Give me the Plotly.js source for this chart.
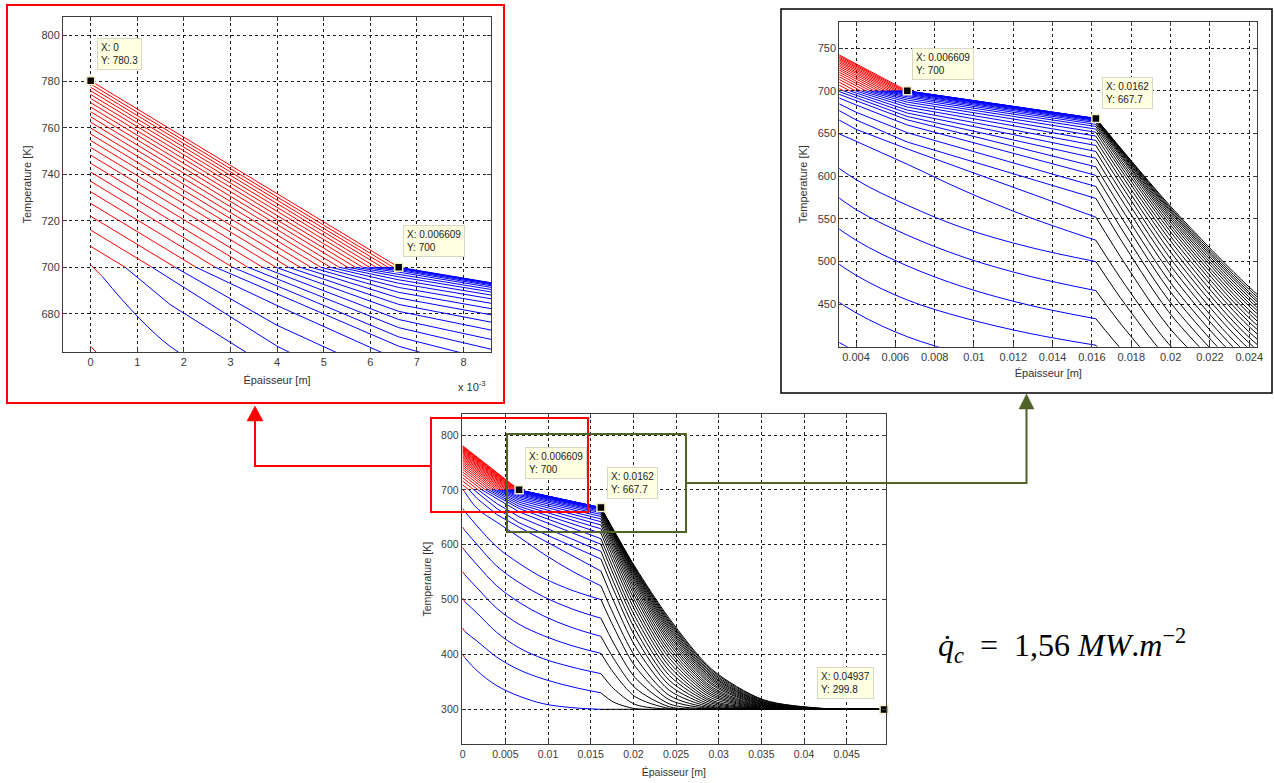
<!DOCTYPE html>
<html>
<head>
<meta charset="utf-8">
<script src="https://cdn.plot.ly/plotly-3.0.1.min.js"></script>
<style>html,body{margin:0;padding:0;background:#fff;}#chart{width:1274px;height:783px;}</style>
</head>
<body>
<div id="chart"></div>
<script>
// ---------------- DATA ----------------
// one temperature profile per time step: 8 before melting, 24 while the front moves
const meltT = 700;
const surfaceT = [400,448,503,551,595,632,666,701,709,716,722,727.5,732.5,737,741,744.8,748.3,751.6,754.6,757.4,760,762.5,764.8,767,769,770.9,772.7,774.4,776,777.5,778.9,780.3];
const meltFront = [null,null,null,null,null,null,null,null,0.00074,0.001317,0.001811,0.002263,0.002675,0.003045,0.003374,0.003687,0.003975,0.004247,0.004494,0.004724,0.004938,0.005144,0.005333,0.005514,0.005679,0.005835,0.005984,0.006123,0.006255,0.006379,0.006494,0.006609];
// first grid point (short red start of the non-molten profiles)
const xStub = 0.00025;
const stubT = [394,441.5,496,545,589,626,660.5,696,null,null,null,null,null,null,null,null,null,null,null,null,null,null,null,null,null,null,null,null,null,null,null,null];
// layers 1-2 (blue)
const blueX = [0.0017, 0.0040, 0.006609, 0.0095, 0.0128, 0.0162];
const T_0017 = [370,424,475,521,563,600,634,666,684,null,null,null,null,null,null,null,null,null,null,null,null,null,null,null,null,null,null,null,null,null,null,null];
const T_0040 = [343,395,440,484,525,561,596,641,655,666,675,683.5,null,null,null,null,null,null,null,null,null,null,null,null,null,null,null,null,null,null,null,null];
const T_0066 = [324,372,412,455,495,531,566,614,632,640,651,660,666,670,674,677.5,681,684,686.8,689.2,691.3,693.1,694.6,695.9,697,697.9,698.6,699.1,699.5,699.75,699.9,700];
const T_0095 = [310,355,392,434,470,505,539,583,null,null,null,null,null,null,null,null,null,null,null,null,null,null,null,null,null,null,null,null,null,null,null,null];
const T_0128 = [303,341,377,416,449,483,517,552,null,null,null,null,null,null,null,null,null,null,null,null,null,null,null,null,null,null,null,null,null,null,null,null];
const T_0162 = [300,330,365,402,433,466,500,525,552,574,588,601,611,621,629,636,642,647,651.5,655.2,658.3,660.8,662.8,664.3,665.4,666.2,666.8,667.2,667.45,667.6,667.65,667.7];
// layer 3 (black)
const blackX = [0.0162, 0.0177, 0.0202, 0.0242, 0.0292, 0.0352, 0.0422, 0.04937];
const T_0177 = [300,312.9,337.5,366.3,392.3,420.3,449.6,472.3,496.8,517.1,531.2,544.5,555.0,565.5,574.2,582.0,588.6,594.6,599.8,604.0,608.1,611.3,614.5,617.0,618.6,620.5,621.7,623.2,624.0,625.0,625.8,626.3];
const T_0202 = [300,301.2,308.9,323.1,339.1,357.8,378.4,396.2,415.4,432.6,446.0,458.4,469.1,479.8,488.9,497.3,505.2,512.0,518.2,523.8,529.0,533.4,537.2,540.8,544.0,546.8,549.4,551.9,553.9,555.8,557.7,559.6];
const T_0242 = [300,300,300.2,301.6,304.7,309.9,317.4,325.4,334.7,344.1,353.0,361.7,370.3,378.4,385.9,393.5,400.6,406.9,413.2,419.4,424.7,429.6,434.6,438.8,443.2,446.9,450.4,453.9,457.2,459.9,462.9,465.8];
const T_0292 = [300,300,300,300,300.1,300.4,301.0,302.0,303.6,305.6,308.0,310.9,313.7,316.5,320.2,323.9,327.1,330.6,334.1,337.4,340.6,344.5,347.4,350.9,353.9,356.7,359.7,362.1,365.1,367.5,370.5,372.8];
const T_0352 = [300,300,300,300,300,300,300,300.1,300.1,300.2,300.3,300.5,300.8,301.2,301.7,302.2,302.9,303.5,304.3,305.1,306.0,307.1,308.0,308.8,309.7,310.9,312.1,312.9,313.8,315.3,316.6,317.6];
const T_0422 = [300,300,300,300,300,300,300,300,300,300,300,300,300,300,300,300,300.1,300.1,300.2,300.2,300.2,300.3,300.4,300.5,300.6,300.7,300.8,301.0,301.1,301.2,301.4,301.6];
const T_0494 = [300,300,300,300,300,300,300,300,300,300,300,300,300,300,300,300,300,300,300,300,300,300,300,300,300,300,300,300,300,300,300,299.8];
// data tips
const tipX = [0, 0.006609, 0.0162, 0.04937];
const tipY = [780.3, 700, 667.7, 299.8];
const tipLabelX = ['0', '0.006609', '0.0162', '0.04937'];
const tipLabelY = ['780.3', '700', '667.7', '299.8'];
// ticks and titles
const tlXTicks = [0,0.001,0.002,0.003,0.004,0.005,0.006,0.007,0.008];
const tlXText = ['0','1','2','3','4','5','6','7','8'];
const tlYTicks = [680,700,720,740,760,780,800];
const trXTicks = [0.004,0.006,0.008,0.01,0.012,0.014,0.016,0.018,0.02,0.022,0.024];
const trXText = ['0.004','0.006','0.008','0.01','0.012','0.014','0.016','0.018','0.02','0.022','0.024'];
const trYTicks = [450,500,550,600,650,700,750];
const bXTicks = [0,0.005,0.01,0.015,0.02,0.025,0.03,0.035,0.04,0.045];
const bXText = ['0','0.005','0.01','0.015','0.02','0.025','0.03','0.035','0.04','0.045'];
const bYTicks = [300,400,500,600,700,800];
const xTitle = 'Épaisseur [m]';
const yTitle = 'Temperature [K]';
const formulaText = '<i>q̇</i><sub><i>c</i></sub>  =  1,56 <i>MW</i>.<i>m</i><sup>−2</sup>';

// ---------------- BUILD ----------------
const W = 1274, H = 783;
const blueT = [T_0017, T_0040, T_0066, T_0095, T_0128, T_0162];
const blackT = [T_0162, T_0177, T_0202, T_0242, T_0292, T_0352, T_0422, T_0494];

const red = {x: [], y: []}, blueLin = {x: [], y: []}, blueSpl = {x: [], y: []}, black = {x: [], y: []};
function push(s, x, y) { s.x.push(x); s.y.push(y); }
for (let k = 0; k < surfaceT.length; k++) {
  const xf = meltFront[k];
  if (xf === null) {
    push(red, 0, surfaceT[k]); push(red, xStub, stubT[k]); push(red, null, null);
    push(blueSpl, xStub, stubT[k]);
    for (let j = 0; j < blueX.length; j++) if (blueT[j][k] !== null) push(blueSpl, blueX[j], blueT[j][k]);
    push(blueSpl, null, null);
  } else {
    push(red, 0, surfaceT[k]); push(red, xf, meltT); push(red, null, null);
    push(blueLin, xf, meltT);
    for (let j = 0; j < blueX.length; j++) if (blueT[j][k] !== null && blueX[j] > xf + 1e-7) push(blueLin, blueX[j], blueT[j][k]);
    push(blueLin, null, null);
  }
  for (let j = 0; j < blackX.length; j++) push(black, blackX[j], blackT[j][k]);
  push(black, null, null);
}

const tipsFor = [[0, 1], [1, 2], [1, 2, 3]];
const axPairs = [['x', 'y'], ['x2', 'y2'], ['x3', 'y3']];
const traces = [];
axPairs.forEach((ax, i) => {
  const base = {xaxis: ax[0], yaxis: ax[1], mode: 'lines', hoverinfo: 'skip', showlegend: false, connectgaps: false};
  traces.push(Object.assign({}, base, {x: red.x, y: red.y, line: {color: '#ff0000', width: 1}}));
  traces.push(Object.assign({}, base, {x: blueLin.x, y: blueLin.y, line: {color: '#0000ff', width: 1}}));
  traces.push(Object.assign({}, base, {x: blueSpl.x, y: blueSpl.y, line: {color: '#0000ff', width: 1, shape: 'spline', smoothing: 1.0}}));
  traces.push(Object.assign({}, base, {x: black.x, y: black.y, line: {color: '#000000', width: 1, shape: 'spline', smoothing: 0.8}}));
  traces.push({xaxis: ax[0], yaxis: ax[1], mode: 'markers', hoverinfo: 'skip', showlegend: false, cliponaxis: false,
    x: tipsFor[i].map(t => tipX[t]), y: tipsFor[i].map(t => tipY[t]),
    marker: {symbol: 'square', size: 8, color: '#000', line: {color: '#f5f0c8', width: 1.5}}});
});

const font = 'Liberation Sans, Arial, sans-serif';
function axis(o, fs, title, standoff) {
  return Object.assign({
    showgrid: true, gridcolor: '#1e1e1e', griddash: '3px,3px', gridwidth: 1,
    showline: true, mirror: 'ticks', linecolor: '#3c3c3c', linewidth: 1,
    ticks: 'inside', ticklen: 4, tickcolor: '#3c3c3c', zeroline: false, fixedrange: true,
    tickfont: {family: font, size: fs, color: '#3a3a3a'},
    title: {text: title, standoff: standoff, font: {family: font, size: fs, color: '#333'}}
  }, o);
}
const px = v => v / W, py = v => 1 - v / H;

const layout = {
  width: W, height: H, margin: {l: 0, r: 0, t: 0, b: 0}, autosize: false,
  paper_bgcolor: '#fff', plot_bgcolor: '#fff', showlegend: false,
  xaxis: axis({domain: [px(63), px(491)], range: [-0.000594, 0.00859], anchor: 'y', tickvals: tlXTicks, ticktext: tlXText}, 11, xTitle, 9),
  yaxis: axis({domain: [py(352), py(17)], range: [663.5, 807.8], anchor: 'x', tickvals: tlYTicks}, 11, yTitle, 7),
  xaxis2: axis({domain: [px(839.3), px(1257.3)], range: [0.00315, 0.02441], anchor: 'y2', tickvals: trXTicks, ticktext: trXText}, 11, xTitle, 7),
  yaxis2: axis({domain: [py(346.7), py(21.7)], range: [400.3, 781], anchor: 'x2', tickvals: trYTicks}, 11, yTitle, 7),
  xaxis3: axis({domain: [px(461.7), px(886)], range: [-0.000117, 0.0496], anchor: 'y3', tickvals: bXTicks, ticktext: bXText}, 10.5, xTitle, 9),
  yaxis3: axis({domain: [py(744.3), py(414)], range: [236.2, 838.3], anchor: 'x3', tickvals: bYTicks}, 10.5, yTitle, 7),
  annotations: [], shapes: []
};

function ann(text, x, y, o) {
  layout.annotations.push(Object.assign({text: text, x: px(x), y: py(y), xref: 'paper', yref: 'paper', showarrow: false,
    font: {family: font, size: 11, color: '#333'}}, o || {}));
}
ann('x 10<sup>-3</sup>', 456, 386, {xanchor: 'left'});

// data tip boxes
function tip(t, left, top) {
  ann('X: ' + tipLabelX[t] + '<br>Y: ' + tipLabelY[t], left, top, {xanchor: 'left', yanchor: 'top', align: 'left',
    bgcolor: '#ffffe1', bordercolor: '#d8d8c4', borderwidth: 1, borderpad: 3, font: {family: font, size: 10, color: '#222'}});
}
tip(0, 97, 38); tip(1, 403, 225);
tip(1, 912, 48); tip(2, 1102, 77);
tip(1, 525, 447); tip(2, 607, 467); tip(3, 817, 667);

// formula
ann(formulaText, 936, 670, {xanchor: 'left', font: {family: 'Cambria Math, Liberation Serif, DejaVu Serif, serif', size: 32, color: '#000'}});

// frames, zoom boxes and arrows
function rect(x0, y0, x1, y1, color, w) {
  layout.shapes.push({type: 'rect', xref: 'paper', yref: 'paper', x0: px(x0), x1: px(x1), y0: py(y1), y1: py(y0), line: {color: color, width: w}, fillcolor: 'rgba(0,0,0,0)'});
}
function path(pts, color, w, fill) {
  const d = pts.map((p, i) => (i ? 'L' : 'M') + px(p[0]).toFixed(5) + ',' + py(p[1]).toFixed(5)).join(' ') + (fill ? ' Z' : '');
  layout.shapes.push({type: 'path', xref: 'paper', yref: 'paper', path: d, line: {color: color, width: fill ? 0.5 : w}, fillcolor: fill ? color : 'rgba(0,0,0,0)'});
}
rect(7, 5, 504, 403, '#ff0000', 2);
rect(781, 9, 1272, 393, '#000000', 1.5);
rect(431, 418, 588, 512, '#ff0000', 2);
rect(507, 434, 686, 532, '#4f6228', 2);
path([[431, 466], [255, 466], [255, 419]], '#ff0000', 2, false);
path([[255, 406], [247, 421], [263, 421]], '#ff0000', 0, true);
path([[686, 483], [1026.5, 483], [1026.5, 407]], '#4f6228', 2, false);
path([[1026.5, 394], [1019, 409], [1034, 409]], '#4f6228', 0, true);

Plotly.newPlot('chart', traces, layout, {staticPlot: true, displayModeBar: false});
</script>
</body>
</html>
